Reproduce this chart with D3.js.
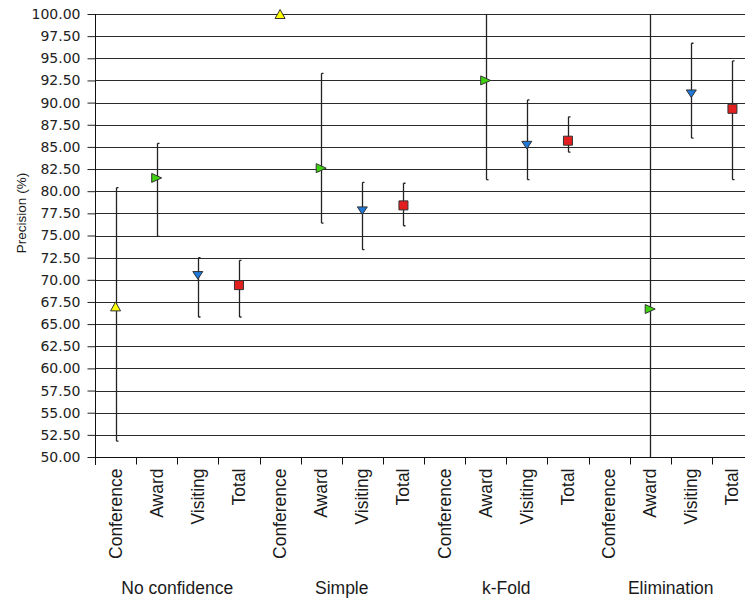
<!DOCTYPE html>
<html>
<head>
<meta charset="utf-8">
<script src="https://cdn.jsdelivr.net/npm/d3@7"></script>
<style>
  body { margin: 0; background: #fff; }
  svg { display: block; }
</style>
</head>
<body>
<svg id="chart" width="745" height="603"></svg>
<script>
let svg = d3.select("#chart");
let width = +svg.attr("width");
let height = +svg.attr("height");

//! DATA
let groups = ["No confidence", "Simple", "k-Fold", "Elimination"];
let categories = ["Conference", "Award", "Visiting", "Total"];
let yTicks = d3.range(50, 100.001, 2.5);

// precision per group, in category order (null = no value)
let precision = [
    [67.0, 81.5, 70.5, 69.4],
    [100.0, 82.6, 77.8, 78.4],
    [null, 92.5, 85.2, 85.7],
    [null, 66.7, 91.0, 89.3]
];
let lower = [
    [51.8, 74.9, 65.8, 65.8],
    [null, 76.4, 73.4, 76.1],
    [null, 81.3, 81.3, 84.4],
    [null, 38.0, 86.0, 81.3]
];
let upper = [
    [80.4, 85.4, 72.5, 72.2],
    [null, 93.3, 81.0, 80.9],
    [null, 104.0, 90.3, 88.4],
    [null, 108.0, 96.7, 94.7]
];

let colors = ["#ffff00", "#3fd20f", "#1f78d8", "#e41f1f"];

// flat rows for drawing
let rows = [];
groups.forEach(function (g, gi) {
    categories.forEach(function (c, ci) {
        rows.push({
            key: g + "|" + c, group: g, cat: c, ci: ci,
            value: precision[gi][ci], lo: lower[gi][ci], hi: upper[gi][ci]
        });
    });
});

//? Layout
let margin = { left: 95, top: 14, bottom: 146 };
let plotRight = 753; // plot runs past the window edge
let x = d3.scaleBand().domain(rows.map(d => d.key)).range([margin.left, plotRight]).padding(0);
let y = d3.scaleLinear().domain([50, 100]).range([height - margin.bottom, margin.top]);
let clampY = v => y(Math.max(50, Math.min(100, v)));

//? Grid
svg.append("g")
    .selectAll("line")
    .data(yTicks)
    .enter()
    .append("line")
    .attr("x1", margin.left)
    .attr("x2", width)
    .attr("y1", d => Math.round(y(d)) + 0.5)
    .attr("y2", d => Math.round(y(d)) + 0.5)
    .attr("stroke", "#2a2a2a")
    .attr("stroke-width", 1.2);

//? Y axis
let yAxis = svg.append("g")
    .attr("transform", "translate(" + (margin.left + 0.5) + ",0)")
    .call(d3.axisLeft(y).tickValues(yTicks).tickFormat(d3.format(".2f")).tickSize(8).tickPadding(7));
yAxis.select(".domain").remove();
yAxis.selectAll(".tick line").attr("stroke", "#222");
yAxis.selectAll(".tick text")
    .attr("font-family", "DejaVu Sans")
    .attr("font-size", 14)
    .attr("fill", "#222");
svg.append("line")
    .attr("x1", margin.left + 0.5).attr("x2", margin.left + 0.5)
    .attr("y1", y(100)).attr("y2", y(50) + 8)
    .attr("stroke", "#111");

//? X axis with boundary ticks
let baseY = Math.round(y(50)) + 0.5;
svg.append("line")
    .attr("x1", margin.left).attr("x2", width)
    .attr("y1", baseY).attr("y2", baseY)
    .attr("stroke", "#111");
svg.append("g")
    .selectAll("line")
    .data(rows.slice(1))
    .enter()
    .append("line")
    .attr("x1", d => Math.round(x(d.key)) + 0.5)
    .attr("x2", d => Math.round(x(d.key)) + 0.5)
    .attr("y1", baseY)
    .attr("y2", baseY + 7)
    .attr("stroke", "#111");

svg.append("g")
    .selectAll("text")
    .data(rows)
    .enter()
    .append("text")
    .attr("transform", d => "translate(" + (x(d.key) + x.bandwidth() / 2 + 6) + "," + (baseY + 11) + ") rotate(-90)")
    .attr("text-anchor", "end")
    .attr("font-family", "Liberation Sans, Arial, sans-serif")
    .attr("font-size", 17.5)
    .attr("fill", "#1a1a1a")
    .text(d => d.cat);

svg.append("g")
    .selectAll("text")
    .data(groups)
    .enter()
    .append("text")
    .attr("x", (d, i) => (x(d + "|" + categories[0]) + x(d + "|" + categories[3]) + x.bandwidth()) / 2)
    .attr("y", 594)
    .attr("text-anchor", "middle")
    .attr("font-family", "Liberation Sans, Arial, sans-serif")
    .attr("font-size", 17.5)
    .attr("fill", "#1a1a1a")
    .text(d => d);

// y title
svg.append("text")
    .attr("transform", "translate(26,213) rotate(-90)")
    .attr("text-anchor", "middle")
    .attr("font-family", "Liberation Sans, Arial, sans-serif")
    .attr("font-size", 13.5)
    .attr("fill", "#1a1a1a")
    .text("Precision (%)");

//? Error bars
let bars = rows.filter(d => d.lo != null && d.hi != null);
let eb = svg.append("g").attr("stroke", "#222").attr("stroke-width", 1.3).attr("fill", "none");
eb.selectAll("line.v")
    .data(bars)
    .enter()
    .append("line")
    .attr("x1", d => Math.round(x(d.key) + x.bandwidth() / 2) + 0.5)
    .attr("x2", d => Math.round(x(d.key) + x.bandwidth() / 2) + 0.5)
    .attr("y1", d => clampY(d.hi))
    .attr("y2", d => clampY(d.lo));
eb.selectAll("path.cap")
    .data(bars)
    .enter()
    .append("path")
    .attr("d", function (d) {
        let cx = Math.round(x(d.key) + x.bandwidth() / 2) + 0.5;
        let s = "";
        if (d.hi <= 100) s += "M" + cx + "," + y(d.hi) + "h2";
        if (d.lo >= 50) s += "M" + cx + "," + y(d.lo) + "h2";
        return s;
    });

//? Markers
function shape(ci) {
    if (ci === 0) return "M-5,4.5L0,-4.5L5,4.5Z";
    if (ci === 1) return "M-5,-4.5L5,0L-5,4.5Z";
    if (ci === 2) return "M-5,-3.8L5,-3.8L0,3.8Z";
    return "M-4.5,-4.5H4.5V4.5H-4.5Z";
}
svg.append("g")
    .selectAll("path")
    .data(rows.filter(d => d.value != null))
    .enter()
    .append("path")
    .attr("transform", d => "translate(" + (x(d.key) + x.bandwidth() / 2) + "," + y(d.value) + ")")
    .attr("d", d => shape(d.ci))
    .attr("fill", d => colors[d.ci])
    .attr("stroke", "#333")
    .attr("stroke-width", 1);
</script>
</body>
</html>
